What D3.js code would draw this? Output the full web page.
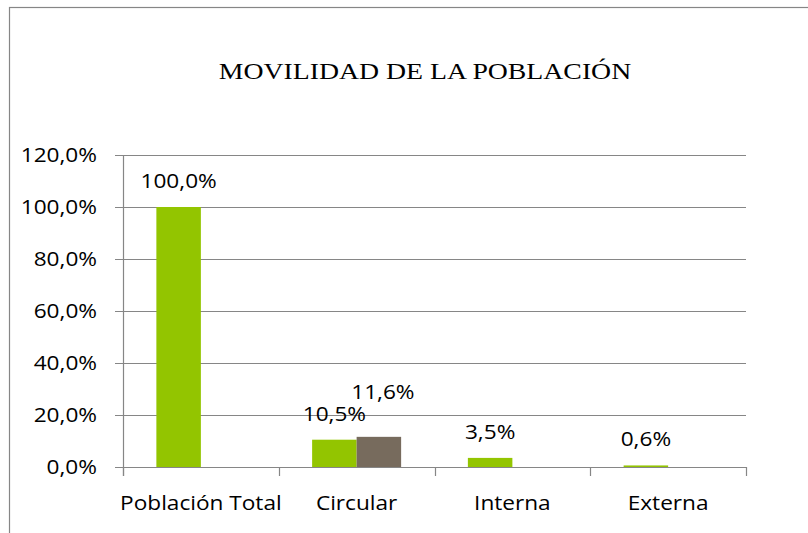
<!DOCTYPE html>
<html>
<head>
<meta charset="utf-8">
<script src="https://cdn.jsdelivr.net/npm/d3@7"></script>
<style>
  html, body { margin: 0; padding: 0; background: #fff; }
  svg { display: block; }
</style>
</head>
<body>
<svg id="chart" width="808" height="533"></svg>
<script>
// Chart data
const title = "MOVILIDAD DE LA POBLACIÓN";
const categories = ["Población Total", "Circular", "Interna", "Externa"];
const seriesNames = ["Serie 1", "Serie 2"];
const series1 = [100.0, 10.5, 3.5, 0.6];
const series2 = [null, 11.6, null, null];
const yTicks = [0, 20, 40, 60, 80, 100, 120];

const svg = d3.select("#chart");
const W = 808, H = 533;
const gridColor = "#868686";
const colors = ["#93c500", "#776b5d"];
const sansFont = "'Open Sans', sans-serif";
const sansSize = 19.5, sansStretch = 1.16;

// outer chart frame
svg.append("rect")
  .attr("x", 9.5).attr("y", 7.5)
  .attr("width", W + 20).attr("height", H + 20)
  .attr("fill", "#fff").attr("stroke", gridColor).attr("stroke-width", 1.2);

const plot = { left: 123, right: 746, top: 155, bottom: 467 };

const x = d3.scaleBand().domain(categories).range([plot.left, plot.right]).paddingInner(0).paddingOuter(0);
const xs = d3.scaleBand().domain(seriesNames).range([0, x.bandwidth()]).paddingInner(0).paddingOuter(0.75);
const y = d3.scaleLinear().domain([0, 120]).range([plot.bottom, plot.top]);

const fmt = v => d3.format(".1f")(v).replace(".", ",") + "%";

// helper: horizontally stretched text
function label(g, txt, px, py, opts = {}) {
  return g.append("text")
    .attr("transform", `translate(${px},${py}) scale(${opts.sx || sansStretch},1)`)
    .attr("text-anchor", opts.anchor || "middle")
    .attr("font-family", opts.font || sansFont)
    .attr("font-size", opts.size || sansSize)
    .attr("fill", "#000")
    .text(txt);
}

// title
label(svg, title, 425, 79, { font: "'Liberation Serif', 'Times New Roman', serif", size: 24, sx: 1.157 });

// horizontal gridlines with left tick marks
const grid = svg.append("g");
yTicks.forEach(t => {
  grid.append("line")
    .attr("x1", plot.left - 8).attr("x2", plot.right)
    .attr("y1", Math.round(y(t)) + 0.5).attr("y2", Math.round(y(t)) + 0.5)
    .attr("stroke", gridColor).attr("stroke-width", 1.2);
});

// y axis line
svg.append("line")
  .attr("x1", plot.left + 0.5).attr("x2", plot.left + 0.5)
  .attr("y1", plot.top).attr("y2", plot.bottom + 9)
  .attr("stroke", gridColor).attr("stroke-width", 1.2);

// category tick marks at band boundaries
const bounds = categories.map(c => x(c)).concat([plot.right]);
bounds.forEach(b => {
  svg.append("line")
    .attr("x1", Math.round(b) + 0.5).attr("x2", Math.round(b) + 0.5)
    .attr("y1", plot.bottom).attr("y2", plot.bottom + 9)
    .attr("stroke", gridColor).attr("stroke-width", 1.2);
});

// y tick labels
yTicks.forEach(t => {
  label(svg, fmt(t), 97, y(t) + 7, { anchor: "end" });
});

// bars
const allSeries = [series1, series2];
const bars = svg.append("g");
allSeries.forEach((vals, si) => {
  vals.forEach((v, ci) => {
    if (v == null) return;
    const bx = x(categories[ci]) + xs(seriesNames[si]);
    bars.append("rect")
      .attr("x", bx).attr("y", y(v))
      .attr("width", xs.bandwidth()).attr("height", plot.bottom - y(v))
      .attr("fill", colors[si]);
  });
});

// value labels
allSeries.forEach((vals, si) => {
  vals.forEach((v, ci) => {
    if (v == null) return;
    const cx = x(categories[ci]) + xs(seriesNames[si]) + xs.bandwidth() / 2;
    // second series label sits higher to clear its neighbour
    const lift = si === 1 ? 38 : 19;
    const shift = si === 1 ? 4 : 0;
    label(svg, fmt(v), cx + shift, y(v) - lift);
  });
});

// category labels
categories.forEach(c => {
  label(svg, c, x(c) + x.bandwidth() / 2, 510);
});
</script>
</body>
</html>
